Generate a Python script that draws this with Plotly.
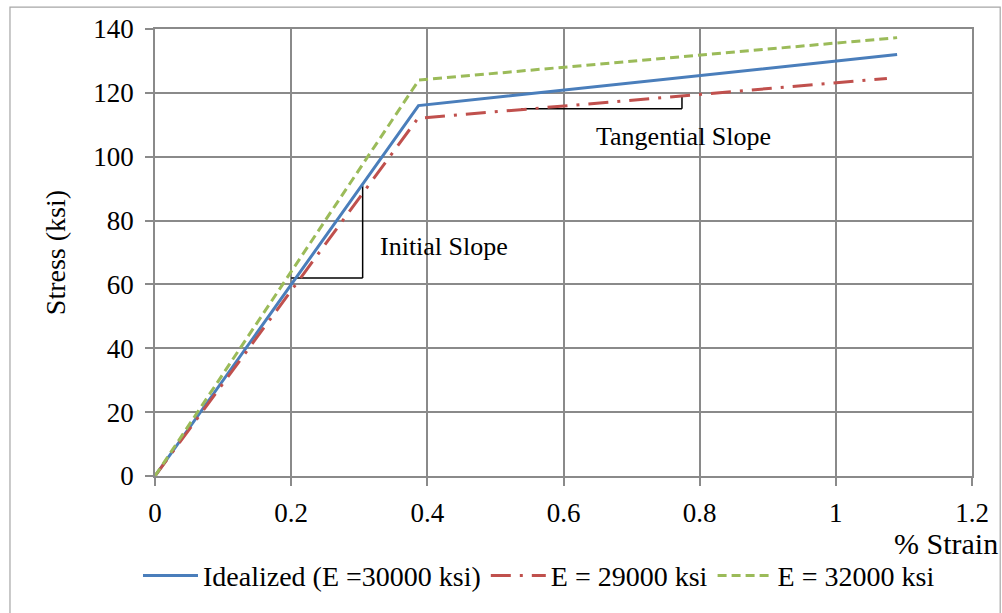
import plotly.graph_objects as go

# Stress-strain curves (bilinear), % strain vs stress in ksi
strain_ideal = [0.0, 0.387, 1.09]
stress_ideal = [0.0, 116.0, 132.0]

strain_e29 = [0.0, 0.386, 1.075]
stress_e29 = [0.0, 112.0, 124.5]

strain_e32 = [0.0, 0.3875, 1.09]
stress_e32 = [0.0, 124.0, 137.3]

series_names = ["Idealized (E =30000 ksi)", "E = 29000 ksi", "E = 32000 ksi"]

x_ticks = [0, 0.2, 0.4, 0.6, 0.8, 1, 1.2]
y_ticks = [0, 20, 40, 60, 80, 100, 120, 140]

# Slope marker triangles
init_h = ([0.2, 0.305], [62, 62])
init_v = ([0.305, 0.305], [62, 91])
tang_h = ([0.538, 0.774], [115, 115])
tang_v = ([0.774, 0.774], [115, 118.8])

FONT = "Liberation Serif"
GRID = "#8a8a8a"

fig = go.Figure()

for xs, ys in (init_h, init_v, tang_h, tang_v):
    fig.add_trace(go.Scatter(x=xs, y=ys, mode="lines", showlegend=False,
                             hoverinfo="skip",
                             line=dict(color="black", width=1.5)))

fig.add_trace(go.Scatter(x=strain_ideal, y=stress_ideal, mode="lines",
                         name=series_names[0],
                         line=dict(color="#4a7ebb", width=3)))
fig.add_trace(go.Scatter(x=strain_e29, y=stress_e29, mode="lines",
                         name=series_names[1],
                         line=dict(color="#c0504d", width=3,
                                   dash="20px,9px,3px,9px")))
fig.add_trace(go.Scatter(x=strain_e32, y=stress_e32, mode="lines",
                         name=series_names[2],
                         line=dict(color="#9bbb59", width=3, dash="9px,5px")))

fig.add_annotation(x=0.424, y=72, text="Initial Slope", showarrow=False,
                   font=dict(family=FONT, size=26, color="black"))
fig.add_annotation(x=0.776, y=106.3, text="Tangential Slope", showarrow=False,
                   font=dict(family=FONT, size=26, color="black"))
fig.add_annotation(xref="paper", yref="paper", x=1.034, y=-0.151,
                   xanchor="right", yanchor="middle", text="% Strain",
                   showarrow=False, font=dict(family=FONT, size=30, color="black"))

# outer chart border
fig.add_shape(type="rect", xref="paper", yref="paper",
              x0=-0.1775, x1=1.0345, y0=-0.33, y1=1.049,
              line=dict(color="#a6a6a6", width=1.2), fillcolor="rgba(0,0,0,0)")

fig.update_layout(
    width=1002, height=613,
    margin=dict(l=155, r=30, t=29, b=135),
    paper_bgcolor="white", plot_bgcolor="white",
    font=dict(family=FONT, size=26, color="black"),
    showlegend=True,
    legend=dict(orientation="h", x=0.47, xanchor="center", y=-0.223,
                yanchor="middle", font=dict(family=FONT, size=28),
                itemwidth=55, tracegroupgap=0, bgcolor="rgba(0,0,0,0)"),
)

fig.update_xaxes(range=[0, 1.2], tickvals=x_ticks,
                 ticktext=[f"{v:g}" for v in x_ticks],
                 showgrid=True, gridcolor=GRID, gridwidth=1.5,
                 showline=True, linecolor=GRID, linewidth=1.5, mirror=True,
                 ticks="outside", ticklen=8, tickcolor=GRID, tickwidth=1.5,
                 ticklabelstandoff=4,
                 zeroline=False, tickfont=dict(family=FONT, size=27))
fig.update_yaxes(range=[0, 140], tickvals=y_ticks,
                 showgrid=True, gridcolor=GRID, gridwidth=1.5,
                 showline=True, linecolor=GRID, linewidth=1.5, mirror=True,
                 ticks="outside", ticklen=8, tickcolor=GRID, tickwidth=1.5,
                 ticklabelstandoff=6,
                 zeroline=False, tickfont=dict(family=FONT, size=27),
                 title=dict(text="Stress (ksi)", font=dict(family=FONT, size=28),
                            standoff=20))

fig.write_html("out.html")
